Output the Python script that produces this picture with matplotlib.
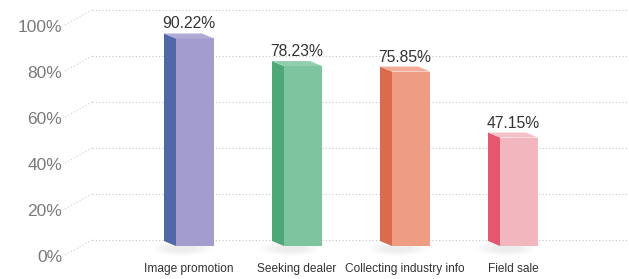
import numpy as np
import matplotlib
matplotlib.use('Agg')
import matplotlib.pyplot as plt
from matplotlib.patches import Polygon, Ellipse
from matplotlib.colors import to_rgb

categories = ['Image promotion', 'Seeking dealer', 'Collecting industry info', 'Field sale']
values = [90.22, 78.23, 75.85, 47.15]
value_labels = ['90.22%', '78.23%', '75.85%', '47.15%']
y_ticks = [0, 20, 40, 60, 80, 100]
y_tick_labels = ['0%', '20%', '40%', '60%', '80%', '100%']

front_colors = ['#A29CCF', '#7CC59E', '#EF9C84', '#F2B6BF']
side_colors = ['#5068A8', '#4FA677', '#DC6A4E', '#E3586F']

# layout (pixel -> data helpers: 108 px per category step, 2.3 px per percent)
PX_X = 108.0
PX_Y = 2.3
half_w = 19 / PX_X
dx = 12 / PX_X
dy = 5 / PX_Y
grid_dy = 6 / PX_Y
grid_x0 = (92 - 195) / PX_X
slant_x0 = (65 - 195) / PX_X
label_x = (62 - 195) / PX_X

def lighten(c, f):
    r = np.array(to_rgb(c))
    return tuple(r + (1 - r) * f)

fig = plt.figure(figsize=(6.29, 2.79), dpi=100)
ax = fig.add_axes([0, 0, 1, 1])
ax.set_xlim(-195 / PX_X, (629 - 195) / PX_X)
ax.set_ylim(-33 / PX_Y, 246 / PX_Y)
ax.axis('off')

# back-wall dotted grid with slanted lead-in from the tick labels
for t, lab in zip(y_ticks, y_tick_labels):
    gy = t + grid_dy
    ax.plot([grid_x0, ax.get_xlim()[1]], [gy, gy], ls=(0, (1, 2)),
            color='#C4C4C4', lw=0.8, zorder=1)
    ax.plot([slant_x0, grid_x0], [gy - 15 / PX_Y, gy], ls=(0, (1, 2)),
            color='#CDCDCD', lw=0.8, zorder=1)
    ax.text(label_x, gy - 17 / PX_Y, lab, ha='right', va='center',
            fontsize=12.5, color='#7A7A7A', family='Liberation Sans')

for i, (v, fc, sc) in enumerate(zip(values, front_colors, side_colors)):
    x0, x1 = i - half_w, i + half_w
    # soft shadow
    for k in range(6):
        ax.add_patch(Ellipse((i - 0.12, -1.0), 0.55 - k * 0.06, (8 - k * 1.0) / PX_Y * 2,
                             color='#000000', alpha=0.012, lw=0, zorder=2))
    side = Polygon([(x0, 0), (x0, v), (x0 - dx, v + dy), (x0 - dx, dy)],
                   closed=True, fc=sc, ec='none', zorder=3)
    front = Polygon([(x0, 0), (x1, 0), (x1, v), (x0, v)],
                    closed=True, fc=fc, ec='none', zorder=3)
    top = Polygon([(x0, v), (x1, v), (x1 - dx, v + dy), (x0 - dx, v + dy)],
                  closed=True, fc=lighten(fc, 0.15), ec='none', zorder=3)
    for p in (side, front, top):
        ax.add_patch(p)
    ax.text(i - dx / 2, v + dy + 5 / PX_Y, value_labels[i], ha='center', va='baseline',
            fontsize=11.3, color='#333333', family='Liberation Sans')
    ax.text(i - dx / 2, -23 / PX_Y, categories[i], ha='center', va='center',
            fontsize=8.6, color='#333333', family='Liberation Sans')

fig.savefig('out.png', dpi=100)
